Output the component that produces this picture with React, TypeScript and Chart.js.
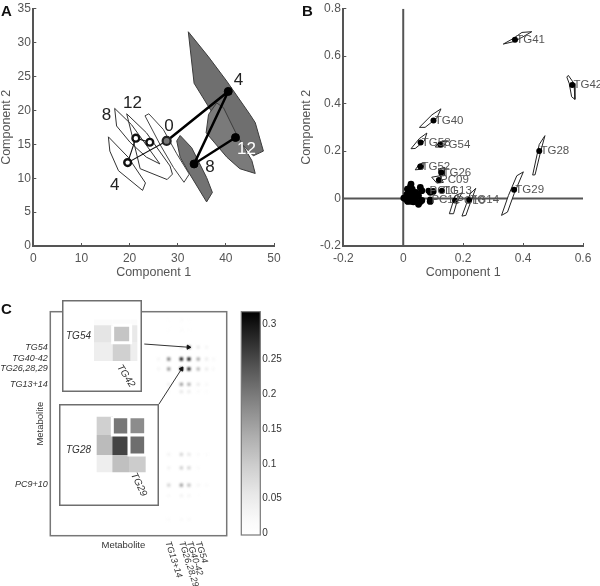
import React, { useEffect, useRef } from "react";
import { Chart, registerables } from "chart.js";

Chart.register(...registerables);

const FONT = '"Liberation Sans", Arial, sans-serif';
const INK = "#555555";
const AXIS = "#555555";

type P = number[];

// ---------- Panel A ----------
const aFilled4: P[] = [[32.2, 31.6], [36.4, 27.9], [40.2, 24.3], [45.0, 19.4], [46.1, 18.2], [47.8, 14.0], [45.7, 13.3], [37.4, 19.4], [33.4, 24.0]];
const aFilled12: P[] = [[35.9, 16.7], [36.4, 19.4], [38.1, 21.1], [39.5, 20.4], [42.2, 16.5], [45.4, 12.6], [46.1, 10.7], [42.9, 11.4], [40.2, 13.1]];
const aFilled8: P[] = [[29.8, 15.5], [30.5, 16.3], [32.9, 14.5], [36.0, 10.1], [37.2, 7.9], [36.0, 6.5], [32.5, 10.6], [30.5, 13.1]];
const aHollow0: P[] = [[23.2, 19.2], [24.0, 19.5], [27.0, 17.2], [29.8, 13.6], [32.4, 10.6], [31.3, 9.4], [29.1, 11.6], [26.3, 15.0]];
const aHollow12: P[] = [[19.4, 19.5], [23.5, 16.7], [26.2, 14.0], [28.4, 11.8], [28.9, 10.6], [27.8, 9.8], [22.2, 11.4], [20.8, 15.5]];
const aHollow8: P[] = [[16.9, 20.3], [20.4, 17.9], [26.3, 12.1], [23.5, 13.1], [20.1, 15.3], [17.3, 17.7]];
const aHollow4: P[] = [[15.6, 16.1], [19.7, 13.1], [23.3, 9.3], [22.7, 8.2], [17.7, 11.1], [15.9, 14.0]];
const aTrackOpen: P[] = [[27.7, 15.5], [19.6, 12.3], [21.3, 15.9], [24.2, 15.3]];
const aTrackSolid: P[] = [[27.7, 15.5], [40.5, 22.8], [33.4, 12.1], [42.0, 16.0]];
const aStart: P[] = [[27.7, 15.5]];
const aNotes: [string, number, number, string][] = [
  ["4", 42.6, 24.5, "#222"], ["12", 44.3, 14.2, "#fff"], ["8", 36.7, 11.6, "#222"], ["0", 28.2, 17.7, "#222"],
  ["12", 20.6, 21.1, "#222"], ["8", 15.2, 19.3, "#222"], ["4", 16.9, 9.0, "#222"],
];

// ---------- Panel B ----------
const bNamed: [string, number, number][] = [
  ["TG41", 0.373, 0.669], ["TG42", 0.564, 0.478], ["TG40", 0.101, 0.329], ["TG53", 0.058, 0.236], ["TG54", 0.124, 0.228],
  ["TG52", 0.057, 0.135], ["TG26", 0.127, 0.11], ["PC09", 0.119, 0.078], ["TG13", 0.129, 0.033], ["PC11", 0.084, 0.033],
  ["PC12", 0.09, -0.004], ["PC10", 0.173, -0.008], ["TG14", 0.22, -0.006], ["TG29", 0.37, 0.0375], ["TG28", 0.454, 0.2],
];
const bCluster: P[] = [
  [0.026, 0.061], [0.024, 0.05], [0.014, 0.04], [0.022, 0.036], [0.029, 0.026], [0.018, 0.024], [0.012, 0.016], [0.024, 0.012], [0.034, 0.014],
  [0.007, 0], [0.002, 0.002], [0.012, 0.004], [0.018, -0.004], [0.024, 0], [0.03, -0.006], [0.036, 0.002], [0.028, -0.012], [0.014, -0.01],
  [0.04, -0.008], [0.057, 0.047], [0.062, 0.033], [0.051, 0.012], [0.042, 0.026], [0.062, -0.008], [0.056, -0.015], [0.051, -0.024], [0.09, 0.026], [0.09, -0.012], [0.1, 0.03],
  [0.02, 0.03], [0.03, 0.04], [0.016, -0.012], [0.034, -0.014],
];
const bOutlines: P[][] = [
  [[0.334, 0.651], [0.368, 0.675], [0.396, 0.7], [0.429, 0.703], [0.396, 0.679], [0.368, 0.661]],
  [[0.546, 0.512], [0.551, 0.519], [0.57, 0.485], [0.573, 0.418], [0.562, 0.429], [0.554, 0.485]],
  [[0.054, 0.3], [0.073, 0.3], [0.112, 0.339], [0.126, 0.378], [0.096, 0.353]],
  [[0.026, 0.21], [0.04, 0.211], [0.07, 0.242], [0.079, 0.276], [0.054, 0.253]],
  [[0.107, 0.217], [0.123, 0.239], [0.146, 0.242], [0.132, 0.217]],
  [[0.04, 0.121], [0.053, 0.144], [0.07, 0.151], [0.066, 0.124]],
  [[0.118, 0.124], [0.137, 0.131], [0.137, 0.096], [0.121, 0.096]],
  [[0.095, 0.09], [0.123, 0.096], [0.134, 0.068], [0.112, 0.065]],
  [[0.196, -0.074], [0.209, -0.071], [0.223, -0.022], [0.242, 0.043], [0.223, 0.019]],
  [[0.154, -0.064], [0.168, -0.064], [0.179, -0.015], [0.196, 0.024], [0.173, 0.012]],
  [[0.328, -0.071], [0.348, -0.057], [0.37, 0.02], [0.401, 0.1125], [0.379, 0.096], [0.351, 0.0125]],
  [[0.432, 0.099], [0.44, 0.1], [0.459, 0.2], [0.473, 0.265], [0.454, 0.228]],
];
const bSpineV: P[] = [[0, -0.2], [0, 0.8]];
const bSpineH: P[] = [[-0.2, 0], [0.6, 0]];

// ---------- Panel C ----------
const heatCols = [43, 47, 52, 55, 58.7, 62, 64.7];
const heatRows = [2.6, 5.7, 11.1, 14.8, 17.9, 22.7, 25, 44.6, 48.8, 54.2, 57.5, 64.9];
const heatValues = [
  [0, 0.008, 0.015, 0.008, 0, 0, 0],
  [0, 0.008, 0.015, 0.008, 0, 0, 0],
  [0, 0.015, 0.05, 0.2, 0.05, 0.03, 0],
  [0.03, 0.2, 0.32, 0.32, 0.15, 0.05, 0.025],
  [0.03, 0.17, 0.32, 0.3, 0.13, 0.05, 0.025],
  [0, 0.04, 0.16, 0.14, 0.05, 0.025, 0],
  [0, 0.015, 0.06, 0.05, 0.02, 0.012, 0],
  [0, 0.035, 0.09, 0.06, 0.02, 0.015, 0],
  [0, 0.035, 0.1, 0.09, 0.02, 0, 0],
  [0, 0.09, 0.16, 0.12, 0.03, 0.02, 0],
  [0, 0.02, 0.035, 0.03, 0.008, 0, 0],
  [0, 0.015, 0.02, 0.02, 0, 0, 0],
];
const rowTicks = [11.1, 14.5, 17.8, 22.7, 54.1];
const rowTickLabels = ["TG54", "TG40-42", "TG26,28,29", "TG13+14", "PC9+10"];
const colNotes: [string, number][] = [["TG13+14", 46.6], ["TG26,28,29", 52], ["TG40-42", 55.1], ["TG54", 58.6]];
const arrowA: P[] = [[37.3, 10.1], [54.8, 11.1]];
const arrowB: P[] = [[43.1, 28.9], [52.1, 17.9]];

const insetAXEdges = [4.8, 7.6, 10.3, 11.3];
const insetAYEdges = [2.9, 3.75, 6.35, 9.1];
const insetAValues = [
  [0.015, 0.015, 0.015],
  [0.063, 0.111, 0.055],
  [0.046, 0.096, 0.046],
];
const insetAMarked = [[1, 1]];
const insetBXEdges = [5.65, 8.0, 10.5, 13];
const insetBYEdges = [1.9, 4.65, 7.65, 10.25];
const insetBValues = [
  [0.096, 0.204, 0.181],
  [0.124, 0.256, 0.214],
  [0.046, 0.118, 0.101],
];
const insetBMarked = [[0, 1], [0, 2], [1, 2]];

const colorbarTicks = [0, 0.05, 0.1, 0.15, 0.2, 0.25, 0.3];
const colorbarRange = [-0.002, 0.318];

// ---------- helpers ----------
const shade = (v: number) => {
  const g = Math.round(255 * (1 - Math.pow(Math.min(Math.max(v, 0), 0.32) / 0.32, 1.4)));
  return `rgb(${g},${g},${g})`;
};
const pts = (a: P[], close = false) => {
  const list = a.map(([x, y]) => ({ x, y }));
  return close ? [...list, list[0]] : list;
};

type Note = { text: string; x: number; y: number; font: string; color?: string; rot?: number; align?: CanvasTextAlign };

const notesPlugin = (items: Note[]) => ({
  id: "notes",
  afterDraw(chart: any) {
    const c = chart.ctx;
    for (const n of items) {
      c.save();
      c.translate(chart.scales.x.getPixelForValue(n.x), chart.scales.y.getPixelForValue(n.y));
      c.rotate(((n.rot || 0) * Math.PI) / 180);
      c.font = n.font;
      c.fillStyle = n.color || INK;
      c.textAlign = n.align || "left";
      c.textBaseline = "middle";
      c.fillText(n.text, 0, 0);
      c.restore();
    }
  },
});

const framePlugin = (color: string, lw: number, fill = false) => ({
  id: "frame",
  beforeDraw(chart: any) {
    if (!fill) return;
    chart.ctx.fillStyle = "#fff";
    chart.ctx.fillRect(0, 0, chart.width, chart.height);
  },
  afterDatasetsDraw(chart: any) {
    const { left, top, right, bottom } = chart.chartArea;
    const c = chart.ctx;
    c.save();
    c.strokeStyle = color;
    c.lineWidth = lw;
    const o = fill ? lw / 2 : 0;
    c.strokeRect(left + o, top + o, right - left - 2 * o, bottom - top - 2 * o);
    c.restore();
  },
});

const softPlugin = (index: number, radius: string) => ({
  id: "soft",
  beforeDatasetDraw(chart: any, args: any) {
    if (args.index === index) {
      chart.ctx.save();
      chart.ctx.filter = radius;
    }
  },
  afterDatasetDraw(chart: any, args: any) {
    if (args.index === index) chart.ctx.restore();
  },
});

const withOrder = (list: any[]) => list.map((d, i) => ({ order: -i, ...d }));

const poly = (a: P[], fill: string | null, border: string, width = 1) => ({
  data: pts(a, true),
  showLine: true,
  fill: fill ? "shape" : false,
  backgroundColor: fill || "transparent",
  borderColor: border,
  borderWidth: width,
  pointRadius: 0,
  tension: 0,
});
const path = (a: P[], border: string, width: number) => ({
  data: pts(a),
  showLine: true,
  fill: false,
  borderColor: border,
  borderWidth: width,
  pointRadius: 0,
  tension: 0,
});
const dots = (a: P[], fill: string, border: string, width: number, r: number, style = "circle") => ({
  data: pts(a),
  showLine: false,
  backgroundColor: fill,
  borderColor: border,
  pointBackgroundColor: fill,
  pointBorderColor: border,
  pointBorderWidth: width,
  pointRadius: r,
  pointStyle: style,
});

const axisScale = (horizontal: boolean, min: number, max: number, step: number, size: number, title: string, titlePad: any) => ({
  type: "linear",
  min,
  max,
  position: horizontal ? "bottom" : "left",
  afterFit: (s: any) => {
    if (horizontal) s.height = size;
    else s.width = size;
  },
  afterBuildTicks: (s: any) => {
    const t = [];
    const n = Math.round((max - min) / step);
    for (let i = 0; i <= n; i++) t.push({ value: Number((min + i * step).toFixed(4)) });
    s.ticks = t;
  },
  ticks: {
    autoSkip: false,
    maxRotation: 0,
    color: INK,
    font: { family: FONT, size: 12 },
    padding: horizontal ? 8 : 5.5,
    callback: (v: number) => String(v),
  },
  grid: { drawOnChartArea: false, drawTicks: true, tickLength: -3, color: AXIS, lineWidth: 1 },
  border: { display: true, color: AXIS, width: 2 },
  title: { display: true, text: title, color: INK, font: { family: FONT, size: 12.5, lineHeight: 1 }, padding: titlePad },
});

const baseOptions = (extra: any) => ({
  responsive: false,
  animation: false,
  devicePixelRatio: 1,
  events: [],
  plugins: { legend: { display: false }, tooltip: { enabled: false } },
  ...extra,
});

function Panel({ left, top, width, height, z, make }: { left: number; top: number; width: number; height: number; z?: number; make: () => any }) {
  const ref = useRef<HTMLCanvasElement>(null);
  useEffect(() => {
    const chart = new Chart(ref.current as HTMLCanvasElement, make());
    return () => chart.destroy();
  }, []);
  return <canvas ref={ref} width={width} height={height} style={{ position: "absolute", left, top, width, height, zIndex: z || 1, filter: "blur(0.35px)" }} />;
}

// ---------- chart configs ----------
const chartA = () => ({
  type: "scatter",
  data: {
    datasets: withOrder([
      poly(aFilled4, "#6f6f6f", "#3c3c3c"),
      poly(aFilled12, "#7a7a7a", "#3c3c3c"),
      poly(aFilled8, "#727272", "#3c3c3c"),
      poly(aHollow0, "#ffffff", "#444444"),
      poly(aHollow12, null, "#333333"),
      poly(aHollow8, null, "#333333"),
      poly(aHollow4, null, "#333333"),
      path(aTrackOpen, "#111111", 1.1),
      path(aTrackSolid, "#000000", 2.5),
      dots(aTrackOpen.slice(1), "#ffffff", "#111111", 2.4, 3.4),
      dots(aTrackSolid.slice(1), "#000000", "#000000", 1, 4),
      dots(aStart, "#777777", "#222222", 2.2, 4),
    ]),
  },
  options: baseOptions({
    layout: { padding: { top: 10.7, right: 22, left: 0, bottom: 0 } },
    scales: {
      x: axisScale(true, 0, 50, 10, 44, "Component 1", { top: 0, bottom: 11 }),
      y: axisScale(false, 0, 35, 5, 33.3, "Component 2", { top: 0, bottom: 0 }),
    },
  }),
  plugins: [notesPlugin(aNotes.map(([text, x, y, color]) => ({ text, x, y, color, align: "center" as CanvasTextAlign, font: `17px ${FONT}` })))],
});

const chartB = () => ({
  type: "scatter",
  data: {
    datasets: withOrder([
      path(bSpineV, "#555555", 2),
      path(bSpineH, "#555555", 2),
      ...bOutlines.map((o) => poly(o, "#ffffff", "#222222", 1)),
      dots(bCluster, "#000000", "#000000", 0, 3.4),
      dots(bNamed.map(([, x, y]) => [x, y]), "#000000", "#000000", 0, 3),
    ]),
  },
  options: baseOptions({
    layout: { padding: { top: 10, right: 17, left: 0, bottom: 0 } },
    scales: {
      x: axisScale(true, -0.2, 0.6, 0.2, 44, "Component 1", { top: 0, bottom: 11 }),
      y: axisScale(false, -0.2, 0.8, 0.2, 43.3, "Component 2", { top: 0, bottom: 0 }),
    },
  }),
  plugins: [notesPlugin(bNamed.map(([text, x, y]) => ({ text, x: x + 0.004, y, font: `11.5px ${FONT}` })))],
});

const heatCells = () => {
  const list: any[] = [];
  heatRows.forEach((row, r) =>
    heatCols.forEach((col, c) => {
      if (heatValues[r][c] > 0) list.push({ x: col, y: row, v: heatValues[r][c] });
    }),
  );
  return list;
};

const chartHeat = () => {
  const cells = heatCells();
  return {
    type: "scatter",
    data: {
      datasets: withOrder([
        {
          data: cells,
          showLine: false,
          pointStyle: "rect",
          pointRadius: 2.3,
          pointBorderWidth: 0,
          pointBackgroundColor: cells.map((d) => shade(d.v)),
        },
        {
          ...path(arrowA, "#333333", 1),
          pointStyle: "triangle",
          pointRadius: [0, 2.4],
          pointRotation: [0, 92],
          pointBackgroundColor: "#111",
          pointBorderColor: "#111",
        },
        {
          ...path(arrowB, "#333333", 1),
          pointStyle: "triangle",
          pointRadius: [0, 2.4],
          pointRotation: [0, 33],
          pointBackgroundColor: "#111",
          pointBorderColor: "#111",
        },
      ]),
    },
    options: baseOptions({
      layout: { padding: { top: 11.7, right: 13.3, left: 0, bottom: 50.3 } },
      scales: {
        x: { type: "linear", min: 0, max: 70, display: false },
        y: {
          type: "linear",
          min: 0,
          max: 70,
          reverse: true,
          afterFit: (s: any) => {
            s.width = 50.3;
          },
          afterBuildTicks: (s: any) => {
            s.ticks = rowTicks.map((value) => ({ value }));
          },
          grid: { display: false, drawTicks: false },
          border: { display: false },
          ticks: {
            autoSkip: false,
            padding: 2.5,
            color: "#333",
            font: { family: FONT, size: 9, style: "italic" },
            callback: (v: number) => rowTickLabels[rowTicks.indexOf(v)],
          },
        },
      },
    }),
    plugins: [
      softPlugin(0, "blur(1px)"),
      framePlugin("#777777", 1.5),
      notesPlugin([
        { text: "Metabolite", x: 29, y: 72.9, font: `9.5px ${FONT}`, color: "#333", align: "center" },
        { text: "Metabolite", x: -3.8, y: 35, font: `9.5px ${FONT}`, color: "#333", align: "center", rot: -90 },
        ...colNotes.map(([text, x]) => ({ text, x, y: 71.8, rot: 72, font: `italic 9px ${FONT}`, color: "#333" })),
      ]),
    ],
  };
};

const inset = (xEdges: number[], yEdges: number[], values: number[][], marked: number[][], xMax: number, yMax: number, notes: Note[]) => {
  const cellPoly = (r: number, c: number): P[] => [
    [xEdges[c], yEdges[r]],
    [xEdges[c + 1], yEdges[r]],
    [xEdges[c + 1], yEdges[r + 1]],
    [xEdges[c], yEdges[r + 1]],
  ];
  const plain: any[] = [];
  values.forEach((row, r) => row.forEach((v, c) => plain.push(poly(cellPoly(r, c), shade(v), shade(v), 0))));
  const hl = marked.map(([r, c]) => poly(cellPoly(r, c), shade(values[r][c]), "#ffffff", 3));
  return {
    type: "scatter",
    data: { datasets: withOrder([...plain, ...hl]) },
    options: baseOptions({
      layout: { padding: 0 },
      scales: {
        x: { type: "linear", min: 0, max: xMax, display: false },
        y: { type: "linear", min: 0, max: yMax, reverse: true, display: false },
      },
    }),
    plugins: [framePlugin("#6e6e6e", 1.5, true), notesPlugin(notes)],
  };
};

const chartInsetA = () =>
  inset(insetAXEdges, insetAYEdges, insetAValues, insetAMarked, 12, 13.7, [
    { text: "TG54", x: 0.6, y: 5.35, font: `italic 10px ${FONT}`, color: "#333" },
    { text: "TG42", x: 8.55, y: 9.75, rot: 57, font: `italic 10px ${FONT}`, color: "#333" },
  ]);
const chartInsetB = () =>
  inset(insetBXEdges, insetBYEdges, insetBValues, insetBMarked, 15, 15.3, [
    { text: "TG28", x: 1.05, y: 6.9, font: `italic 10px ${FONT}`, color: "#333" },
    { text: "TG29", x: 11.15, y: 10.4, rot: 64, font: `italic 10px ${FONT}`, color: "#333" },
  ]);

const chartBar = () => ({
  type: "bar",
  data: {
    labels: ["scale"],
    datasets: [
      {
        data: [colorbarRange],
        barPercentage: 1,
        categoryPercentage: 1,
        backgroundColor: (ctx: any) => {
          const a = ctx.chart.chartArea;
          if (!a) return "#888";
          const g = ctx.chart.ctx.createLinearGradient(0, a.bottom, 0, a.top);
          for (let i = 0; i <= 16; i++) g.addColorStop(i / 16, shade((i / 16) * 0.32));
          return g;
        },
      },
    ],
  },
  options: baseOptions({
    layout: { padding: { top: 11.7, bottom: 10.3, left: 5.3, right: 0 } },
    scales: {
      x: { display: false },
      y: {
        type: "linear",
        position: "right",
        min: colorbarRange[0],
        max: colorbarRange[1],
        afterFit: (s: any) => {
          s.width = 39.7;
        },
        afterBuildTicks: (s: any) => {
          s.ticks = colorbarTicks.map((value) => ({ value }));
        },
        grid: { drawOnChartArea: false, drawTicks: true, tickLength: -3, color: "#555" },
        border: { display: false },
        ticks: { autoSkip: false, padding: 5, color: "#333", font: { family: FONT, size: 10 }, callback: (v: number) => String(v) },
      },
    },
  }),
  plugins: [framePlugin("#777777", 1.2)],
});

const letter = (text: string, left: number, top: number) => (
  <div key={text} style={{ position: "absolute", left, top, font: `bold 15px/15px ${FONT}`, color: "#111", zIndex: 5 }}>
    {text}
  </div>
);

export default function App() {
  return (
    <div style={{ position: "fixed", left: 0, top: 0, width: 600, height: 586, background: "#fff", overflow: "hidden" }}>
      <Panel left={0} top={-4} width={296} height={294} make={chartA} />
      <Panel left={300} top={-4} width={300} height={294} make={chartB} />
      <Panel left={0} top={300} width={240} height={286} make={chartHeat} />
      <Panel left={236} top={300} width={64} height={246} make={chartBar} />
      <Panel left={62} top={300} width={80} height={92} z={2} make={chartInsetA} />
      <Panel left={59} top={404} width={100} height={102} z={2} make={chartInsetB} />
      {letter("A", 1, 3)}
      {letter("B", 302, 3)}
      {letter("C", 1, 301)}
    </div>
  );
}
